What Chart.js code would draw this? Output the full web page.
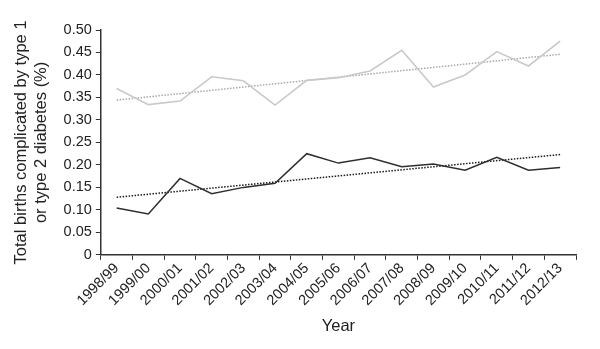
<!DOCTYPE html>
<html>
<head>
<meta charset="utf-8">
<script src="https://cdn.jsdelivr.net/npm/chart.js@4"></script>
<style>
  html, body { margin: 0; padding: 0; background: #fff; }
  #wrap { width: 600px; height: 349px; }
</style>
</head>
<body>
<div id="wrap"><canvas id="chart" width="600" height="349"></canvas></div>
<script>
// years on the x axis
const years = ['1998/99', '1999/00', '2000/01', '2001/02', '2002/03', '2003/04', '2004/05',
  '2005/06', '2006/07', '2007/08', '2008/09', '2009/10', '2010/11', '2011/12', '2012/13'];

// light grey series (upper)
const upperValues = [0.370, 0.334, 0.342, 0.396, 0.387, 0.333, 0.388, 0.394, 0.409, 0.455,
  0.373, 0.400, 0.452, 0.420, 0.475];
// dark series (lower)
const lowerValues = [0.104, 0.091, 0.170, 0.136, 0.150, 0.159, 0.225, 0.204, 0.216, 0.196,
  0.202, 0.188, 0.217, 0.188, 0.194];

// trend lines, read at first and last year only
const upperTrend = [0.344, null, null, null, null, null, null, null, null, null, null, null, null, null, 0.446];
const lowerTrend = [0.128, null, null, null, null, null, null, null, null, null, null, null, null, null, 0.223];

const yTitle = ['Total births complicated by type 1', 'or type 2 diabetes (%)'];
const xTitle = 'Year';

const font = 'Liberation Sans, Arial, Helvetica, sans-serif';

new Chart(document.getElementById('chart').getContext('2d'), {
  type: 'line',
  data: {
    labels: years,
    datasets: [
      { data: upperValues, borderColor: '#c9c9c9', borderWidth: 1.6, pointRadius: 0, tension: 0 },
      { data: lowerValues, borderColor: '#2e2e2e', borderWidth: 1.5, pointRadius: 0, tension: 0 },
      { data: upperTrend, borderColor: '#a8a8a8', borderWidth: 1.5, borderDash: [1.5, 1.5],
        pointRadius: 0, spanGaps: true },
      { data: lowerTrend, borderColor: '#1a1a1a', borderWidth: 1.5, borderDash: [1.5, 1.5],
        pointRadius: 0, spanGaps: true }
    ]
  },
  options: {
    responsive: false,
    animation: false,
    layout: { padding: { top: 30, right: 24, left: 8, bottom: 9 } },
    plugins: { legend: { display: false }, tooltip: { enabled: false } },
    scales: {
      x: {
        offset: true,
        grid: { offset: true, drawOnChartArea: false, drawTicks: true, tickLength: 5, color: '#333' },
        border: { color: '#333', width: 1.5 },
        ticks: { color: '#222', font: { family: font, size: 14.5 }, minRotation: 45, maxRotation: 45, padding: 0 },
        title: { display: true, text: xTitle, color: '#222', font: { family: font, size: 16.5 }, padding: { top: 7 } }
      },
      y: {
        min: 0,
        max: 0.5,
        grid: { drawOnChartArea: false, drawTicks: true, tickLength: 5, color: '#333' },
        border: { color: '#333', width: 1.5 },
        ticks: {
          stepSize: 0.05,
          color: '#222',
          font: { family: font, size: 14.5 },
          padding: 4,
          callback: function(value) {
            return value === 0 ? '0' : value.toFixed(2);
          }
        },
        title: { display: true, text: yTitle, color: '#222', font: { family: font, size: 16.5 }, padding: { bottom: 8 } }
      }
    }
  }
});
</script>
</body>
</html>
